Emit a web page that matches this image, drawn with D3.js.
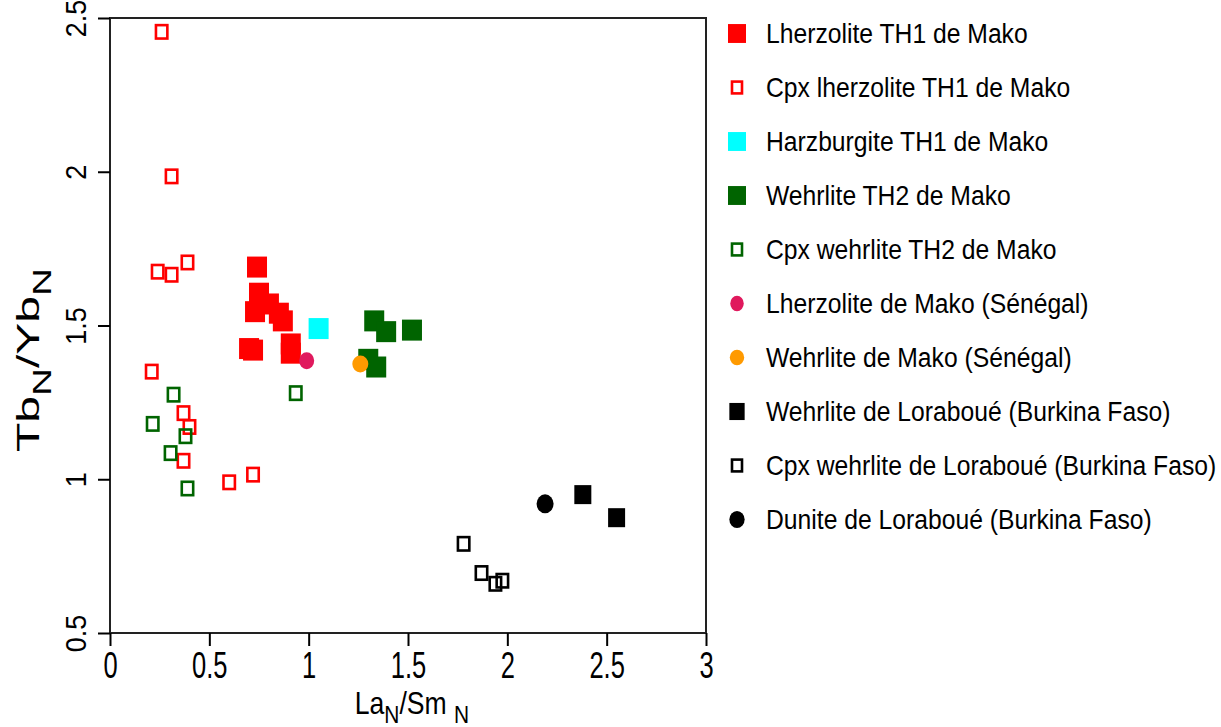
<!DOCTYPE html>
<html><head><meta charset="utf-8">
<script src="https://cdn.jsdelivr.net/npm/d3@7"></script>
<style>body{margin:0;background:#fff}svg{display:block}text{font-family:"Liberation Sans",Arial,sans-serif;fill:#000}</style>
</head><body>
<svg id="chart" width="1221" height="727"></svg>
<script>
// ---- data ----
const xTicks = [0, 0.5, 1, 1.5, 2, 2.5, 3];
const yTicks = [0.5, 1, 1.5, 2, 2.5];
const seriesNames = [
  "Lherzolite TH1 de Mako",
  "Cpx lherzolite TH1 de Mako",
  "Harzburgite TH1 de Mako",
  "Wehrlite TH2 de Mako",
  "Cpx wehrlite TH2 de Mako",
  "Lherzolite de Mako (Sénégal)",
  "Wehrlite de Mako (Sénégal)",
  "Wehrlite de Loraboué (Burkina Faso)",
  "Cpx wehrlite de Loraboué (Burkina Faso)",
  "Dunite de Loraboué (Burkina Faso)"
];
const lherzTH1X = [0.74, 0.75, 0.80, 0.73, 0.85, 0.87, 0.70, 0.72, 0.91, 0.91];
const lherzTH1Y = [1.69, 1.605, 1.57, 1.545, 1.54, 1.515, 1.425, 1.42, 1.44, 1.41];
const cpxLherzTH1X = [0.26, 0.31, 0.24, 0.31, 0.39, 0.21, 0.37, 0.40, 0.37, 0.60, 0.72];
const cpxLherzTH1Y = [2.455, 1.985, 1.675, 1.665, 1.705, 1.35, 1.215, 1.17, 1.06, 0.99, 1.015];
const harzTH1X = [1.05];
const harzTH1Y = [1.49];
const wehrTH2X = [1.33, 1.39, 1.52, 1.30, 1.34];
const wehrTH2Y = [1.515, 1.48, 1.485, 1.39, 1.365];
const cpxWehrTH2X = [0.32, 0.215, 0.38, 0.305, 0.39, 0.935];
const cpxWehrTH2Y = [1.275, 1.18, 1.14, 1.085, 0.97, 1.28];
const lherzMakoX = [0.99];
const lherzMakoY = [1.385];
const wehrMakoX = [1.26];
const wehrMakoY = [1.375];
const wehrLorX = [2.38, 2.55];
const wehrLorY = [0.95, 0.875];
const cpxWehrLorX = [1.78, 1.87, 1.94, 1.975];
const cpxWehrLorY = [0.79, 0.695, 0.66, 0.67];
const duniteLorX = [2.19];
const duniteLorY = [0.92];

// ---- styling ----
const styles = [
  {shape:"sq", fill:"#ff0000", w:20, h:21},
  {shape:"open", stroke:"#ff0000", w:14, h:16},
  {shape:"sq", fill:"#00ffff", w:20, h:21},
  {shape:"sq", fill:"#006400", w:20, h:21},
  {shape:"open", stroke:"#006400", w:14, h:16},
  {shape:"circ", fill:"#e0195d", w:15, h:17},
  {shape:"circ", fill:"#ff9a00", w:16, h:17},
  {shape:"sq", fill:"#000000", w:17, h:19},
  {shape:"open", stroke:"#000000", w:14, h:16},
  {shape:"circ", fill:"#000000", w:17, h:19}
];
const seriesData = [
  [lherzTH1X, lherzTH1Y], [cpxLherzTH1X, cpxLherzTH1Y], [harzTH1X, harzTH1Y],
  [wehrTH2X, wehrTH2Y], [cpxWehrTH2X, cpxWehrTH2Y], [lherzMakoX, lherzMakoY],
  [wehrMakoX, wehrMakoY], [wehrLorX, wehrLorY], [cpxWehrLorX, cpxWehrLorY], [duniteLorX, duniteLorY]
];

const svg = d3.select("#chart");
const x = d3.scaleLinear().domain([0, 3]).range([110, 706]);
const y = d3.scaleLinear().domain([0.5, 2.5]).range([633, 18]);

// box
svg.append("rect").attr("x", 110).attr("y", 18).attr("width", 596).attr("height", 615)
  .attr("fill", "none").attr("stroke", "#222").attr("stroke-width", 2);

// axes
const gx = svg.append("g").attr("transform", "translate(0,633)")
  .call(d3.axisBottom(x).tickValues(xTicks).tickSize(13).tickFormat(d3.format("~g")));
gx.select(".domain").remove();
gx.selectAll(".tick line").attr("stroke", "#000").attr("stroke-width", 2);
gx.selectAll(".tick text").attr("y", 0).attr("dy", 0).attr("font-size", 30)
  .attr("transform", "translate(0,45) scale(0.85,1.22)").attr("fill", "#000");

const gy = svg.append("g").attr("transform", "translate(110,0)")
  .call(d3.axisLeft(y).tickValues(yTicks).tickSize(12).tickFormat(d3.format("~g")));
gy.select(".domain").remove();
gy.selectAll(".tick line").attr("stroke", "#000").attr("stroke-width", 2);
gy.selectAll(".tick text").attr("x", 0).attr("dy", 0).attr("font-size", 30)
  .attr("text-anchor", "middle")
  .attr("transform", "translate(-24,0) rotate(-90) scale(0.9,1)").attr("fill", "#000");

// axis titles
const xt = svg.append("text").attr("text-anchor", "middle").attr("font-size", 28)
  .attr("transform", "translate(412,714) scale(0.95,1.1)");
xt.append("tspan").text("La");
xt.append("tspan").attr("font-size", 22).attr("dy", 8).text("N");
xt.append("tspan").attr("dy", -8).text("/Sm ");
xt.append("tspan").attr("font-size", 22).attr("dy", 8).text("N");

const yt = svg.append("text").attr("text-anchor", "middle").attr("font-size", 31)
  .attr("transform", "translate(39,360) rotate(-90) scale(1.55,1)");
yt.append("tspan").text("Tb");
yt.append("tspan").attr("font-size", 25).attr("dy", 12).text("N");
yt.append("tspan").attr("dy", -12).text("/Yb");
yt.append("tspan").attr("font-size", 25).attr("dy", 12).text("N");

function drawMarker(g, st, cx, cy, k) {
  const w = st.w * k, h = st.h * k;
  if (st.shape === "sq") {
    g.append("rect").attr("x", cx - w / 2).attr("y", cy - h / 2).attr("width", w).attr("height", h)
      .attr("fill", st.fill);
  } else if (st.shape === "open") {
    const sw = 2.6;
    g.append("rect").attr("x", cx - w / 2 + sw / 2).attr("y", cy - h / 2 + sw / 2)
      .attr("width", w - sw).attr("height", h - sw)
      .attr("fill", "none").attr("stroke", st.stroke).attr("stroke-width", sw);
  } else {
    g.append("ellipse").attr("cx", cx).attr("cy", cy).attr("rx", w / 2).attr("ry", h / 2)
      .attr("fill", st.fill);
  }
}

// points: squares first, then circles on top
const order = [0, 1, 2, 3, 4, 7, 8, 5, 6, 9];
const pts = svg.append("g");
order.forEach(i => {
  const [xs, ys] = seriesData[i];
  xs.forEach((v, j) => drawMarker(pts, styles[i], x(v), y(ys[j]), 1));
});

// legend
const lg = svg.append("g");
seriesNames.forEach((name, i) => {
  const cy = 33.5 + 54 * i;
  drawMarker(lg, styles[i], 737, cy, 0.9);
  lg.append("text").attr("font-size", 24.7)
    .attr("transform", `translate(766,${cy + 9.8}) scale(1,1.09)`).text(name);
});
</script>
</body></html>
